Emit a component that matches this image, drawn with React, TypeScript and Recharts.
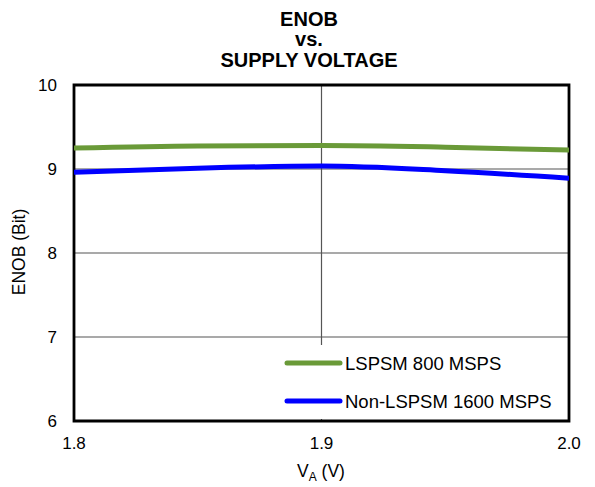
import React from 'react';
import { LineChart, Line, XAxis, YAxis, CartesianGrid, ReferenceArea } from 'recharts';

const voltages = [1.8, 1.85, 1.9, 1.95, 2.0];
const lspsm800 = [9.25, 9.275, 9.28, 9.26, 9.225];
const nonLspsm1600 = [8.96, 9.01, 9.035, 8.98, 8.89];
const xTicks = [1.8, 1.9, 2.0];
const yTicks = [6, 7, 8, 9, 10];
const seriesNames = ['LSPSM 800 MSPS', 'Non-LSPSM 1600 MSPS'];
const titleLines = ['ENOB', 'vs.', 'SUPPLY VOLTAGE'];

const data = voltages.map((v, i) => ({ v, a: lspsm800[i], b: nonLspsm1600[i] }));

const FONT = '"Liberation Sans", Arial, sans-serif';
const GREEN = '#6a9a38';
const BLUE = '#0000ff';

const titleBaselines = [26, 46, 67];

export default function App() {
  return (
    <div style={{ position: 'absolute', left: 0, top: 0, width: 595, height: 487, background: '#fff', fontFamily: FONT }}>
      <LineChart width={595} height={487} data={data} margin={{ top: 85, right: 26, bottom: 26, left: 14 }}>
        <CartesianGrid stroke="#555" strokeWidth={1.2} horizontalValues={[7, 8, 9]} verticalValues={[1.9]} />
        <XAxis
          dataKey="v"
          type="number"
          domain={[1.8, 2.0]}
          ticks={xTicks}
          tickFormatter={(t: number) => t.toFixed(1)}
          axisLine={false}
          tickLine={false}
          height={40}
          tick={{ fill: '#000', fontSize: 17, fontFamily: FONT }}
          tickMargin={10}
          allowDataOverflow
        />
        <YAxis
          type="number"
          domain={[6, 10]}
          ticks={yTicks}
          axisLine={false}
          tickLine={false}
          width={60}
          tick={{ fill: '#000', fontSize: 17, fontFamily: FONT }}
          tickMargin={11}
          allowDataOverflow
        />
        <Line type="monotone" dataKey="a" stroke={GREEN} strokeWidth={5} dot={false} isAnimationActive={false} />
        <Line type="monotone" dataKey="b" stroke={BLUE} strokeWidth={5} dot={false} isAnimationActive={false} />
        <ReferenceArea x1={1.8} x2={2.0} y1={6} y2={10} fill="none" stroke="#000" strokeWidth={2.8} ifOverflow="visible" />
      </LineChart>

      <svg width={595} height={487} style={{ position: 'absolute', left: 0, top: 0, pointerEvents: 'none' }}>
        {titleLines.map((t, i) => (
          <text key={t} x={309} y={titleBaselines[i]} textAnchor="middle" fontFamily={FONT} fontWeight="bold" fontSize={20} fill="#000">
            {t}
          </text>
        ))}
        <text x={25} y={252} transform="rotate(-90 25 252)" textAnchor="middle" fontFamily={FONT} fontSize={17.5} fill="#000">
          ENOB (Bit)
        </text>
        <text x={321} y={477} textAnchor="middle" fontFamily={FONT} fontSize={17.5} fill="#000">
          V<tspan fontSize={12} dy={4}>A</tspan><tspan dy={-4}> (V)</tspan>
        </text>
        <rect x={278} y={345} width={289} height={74} fill="#fff" />
        {seriesNames.map((name, i) => {
          const ly = i === 0 ? 363 : 401;
          return (
            <g key={name}>
              <line x1={287} x2={340} y1={ly} y2={ly} stroke={i === 0 ? GREEN : BLUE} strokeWidth={5} strokeLinecap="round" />
              <text x={345} y={ly + 7} fontFamily={FONT} fontSize={18.5} fill="#000">
                {name}
              </text>
            </g>
          );
        })}
      </svg>
    </div>
  );
}
